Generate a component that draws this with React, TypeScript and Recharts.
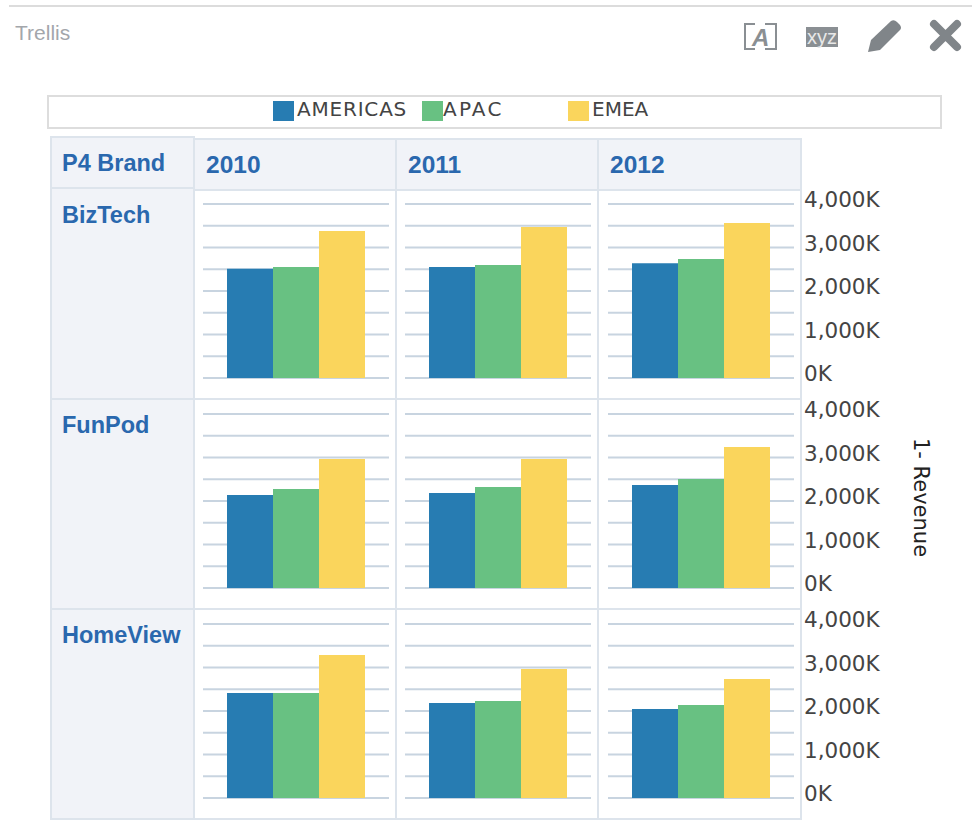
import { BarChart, Bar, XAxis, YAxis, CartesianGrid } from "recharts";

const brands = ["BizTech", "FunPod", "HomeView"];
const years = ["2010", "2011", "2012"];
const seriesNames = ["AMERICAS", "APAC", "EMEA"];
const seriesColors = ["#277cb2", "#68c182", "#fad55c"];

// rows = brands, columns = years
const americas = [
    [2510, 2550, 2640],
    [2140, 2185, 2370],
    [2415, 2185, 2045],
];
const apac = [
    [2550, 2600, 2735],
    [2275, 2320, 2505],
    [2415, 2230, 2140],
];
const emea = [
    [3380, 3470, 3565],
    [2965, 2965, 3240],
    [3285, 2965, 2735],
];

const axisTicks = [0, 1000, 2000, 3000, 4000];
const gridValues = [0, 500, 1000, 1500, 2000, 2500, 3000, 3500, 4000];

const colLeft = [195, 397, 599];
const colWidth = [202, 202, 203];
const rowTop = [188, 398, 608];
const cellTop = [190, 400, 610];

const sans = "'Liberation Sans', Arial, sans-serif";
const dejavu = "'DejaVu Sans', sans-serif";
const headerBg = "#f1f3f8";
const cellBorder = "2px solid #dde4ec";
const headerText = "#2a68ae";

function AxisTick({ x, y, payload }: any) {
    const label = `${Number(payload.value).toLocaleString("en-US")}K`;
    return (
        <text x={x + 2} y={y + 3} fontFamily={dejavu} fontSize={21.5} fill="#444">
            {label}
        </text>
    );
}

function Cell({ row, col }: { row: number; col: number }) {
    const data = [
        {
            year: years[col],
            AMERICAS: americas[row][col],
            APAC: apac[row][col],
            EMEA: emea[row][col],
        },
    ];
    const showAxis = col === 2;
    return (
        <div style={{ position: "absolute", left: colLeft[col] + (showAxis ? 9 : 8), top: rowTop[row] - 4 }}>
            <BarChart
                width={showAxis ? 300 : 186}
                height={202}
                data={data}
                barCategoryGap={24}
                barGap={0}
                margin={{ top: 20, right: 0, bottom: 8, left: 0 }}
            >
                <CartesianGrid vertical={false} horizontalValues={gridValues} stroke="#c8d4e0" strokeWidth={2} />
                <XAxis dataKey="year" hide />
                <YAxis
                    orientation="right"
                    domain={[0, 4000]}
                    ticks={axisTicks}
                    interval={0}
                    width={showAxis ? 114 : 0}
                    hide={!showAxis}
                    axisLine={false}
                    tickLine={false}
                    tick={<AxisTick />}
                />
                {seriesNames.map((name, i) => (
                    <Bar key={name} dataKey={name} fill={seriesColors[i]} isAnimationActive={false} />
                ))}
            </BarChart>
        </div>
    );
}

function HeaderCell({ left, top, width, height, label, textTop, noTop, noLeft, fontSize, paddingLeft }: any) {
    return (
        <div
            style={{
                position: "absolute",
                left,
                top,
                width,
                height,
                boxSizing: "border-box",
                background: headerBg,
                border: cellBorder,
                borderTop: noTop ? "none" : cellBorder,
                borderLeft: noLeft ? "none" : cellBorder,
                color: headerText,
                fontFamily: sans,
                fontWeight: "bold",
                fontSize: fontSize || 23.5,
                lineHeight: "26px",
                paddingLeft: paddingLeft || 10,
                paddingTop: textTop,
            }}
        >
            {label}
        </div>
    );
}

function Icons() {
    return (
        <svg width={240} height={50} style={{ position: "absolute", left: 735, top: 14 }}>
            <path d="M20 10H10V35H20M30 10H41V35H30" fill="none" stroke="#8a8f93" strokeWidth={2} />
            <text x={17} y={32} fontFamily={sans} fontStyle="italic" fontWeight="bold" fontSize={24} fill="#8a8f93">A</text>
            <rect x={71} y={13} width={32} height={20} fill="#8a8f93" />
            <text x={87} y={30} textAnchor="middle" fontFamily={sans} fontSize={20} fill="#e8e8e8">xyz</text>
            <path d="M133 38L136 26L156 7Q159 5 162 8L165 11Q167 14 165 16L145 36Z" fill="#808589" />
            <path d="M199 10L222 33M222 10L199 33" stroke="#808589" strokeWidth={8} strokeLinecap="round" />
        </svg>
    );
}

const legendItems = [
    { left: 273, textLeft: 297, spacing: 0.8 },
    { left: 422, textLeft: 443, spacing: 2.2 },
    { left: 568, textLeft: 592, spacing: 0 },
];

export default function App() {
    return (
        <div style={{ position: "absolute", left: 0, top: 0, width: 972, height: 827, background: "#fff", overflow: "hidden" }}>
            <div style={{ position: "absolute", left: 9, top: 5, width: 963, height: 2, background: "#dcdcdc" }} />
            <div style={{ position: "absolute", left: 15, top: 21, fontFamily: sans, fontSize: 21, color: "#a3a6ab" }}>Trellis</div>
            <Icons />

            <div style={{ position: "absolute", left: 47, top: 95, width: 895, height: 34, boxSizing: "border-box", border: "2px solid #dddddd" }} />
            {seriesNames.map((name, i) => (
                <div key={name}>
                    <div style={{ position: "absolute", left: legendItems[i].left, top: 101, width: 21, height: 20, background: seriesColors[i] }} />
                    <div style={{ position: "absolute", left: legendItems[i].textLeft, top: 97, fontFamily: dejavu, fontSize: 20, color: "#444", letterSpacing: legendItems[i].spacing }}>
                        {name}
                    </div>
                </div>
            ))}

            <HeaderCell left={50} top={136} width={145} height={53} label="P4 Brand" textTop={12} />
            {years.map((year, c) => (
                <HeaderCell key={year} noLeft left={colLeft[c]} top={138} width={colWidth[c]} height={53} label={year} textTop={12} fontSize={24.5} paddingLeft={11} />
            ))}
            {brands.map((brand, r) => (
                <HeaderCell key={brand} noTop left={50} top={r === 0 ? 189 : cellTop[r]} width={145} height={r === 0 ? 211 : 210} label={brand} textTop={r === 0 ? 13 : 12} />
            ))}

            {brands.map((brand, r) =>
                years.map((year, c) => (
                    <div
                        key={brand + year}
                        style={{
                            position: "absolute",
                            left: colLeft[c],
                            top: cellTop[r],
                            width: colWidth[c],
                            height: 210,
                            boxSizing: "border-box",
                            borderRight: cellBorder,
                            borderBottom: cellBorder,
                        }}
                    />
                ))
            )}
            {brands.map((brand, r) => years.map((year, c) => <Cell key={brand + year} row={r} col={c} />))}

            <div
                style={{
                    position: "absolute",
                    left: 909,
                    top: 438,
                    fontFamily: dejavu,
                    fontSize: 21,
                    color: "#222",
                    whiteSpace: "nowrap",
                    transformOrigin: "0 0",
                    transform: "translateX(24px) rotate(90deg)",
                }}
            >
                1- Revenue
            </div>
        </div>
    );
}
